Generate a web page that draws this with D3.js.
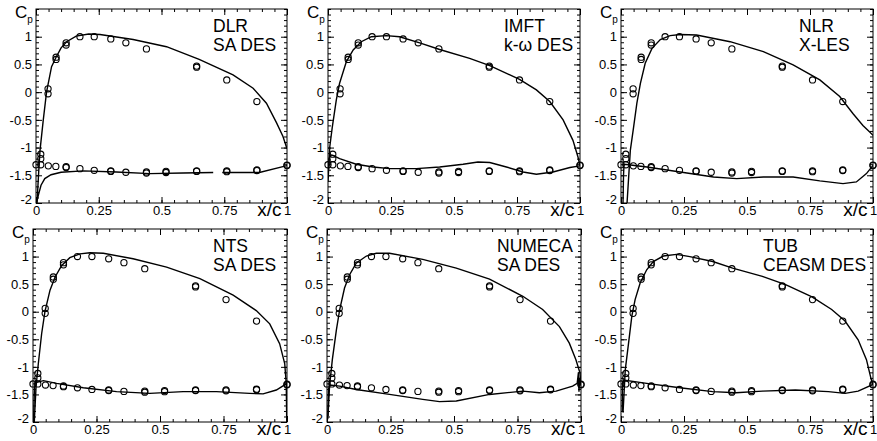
<!DOCTYPE html>
<html>
<head>
<meta charset="utf-8">
<script src="https://cdn.jsdelivr.net/npm/d3@7"></script>
<style>
  html, body { margin: 0; padding: 0; background: #fff; }
  svg text { font-family: "Liberation Sans", Arial, Helvetica, sans-serif; fill: #000; }
</style>
</head>
<body>
<svg id="chart" width="877" height="441"></svg>
<script>
// ---------------- DATA ----------------
const xTicks = [0, 0.25, 0.5, 0.75, 1];
const xTickLabels = ["0", "0.25", "0.5", "0.75", "1"];
const yTicks = [-2, -1.5, -1, -0.5, 0, 0.5, 1];
const yTickLabels = ["-2", "-1.5", "-1", "-0.5", "0", "0.5", "1"];

// experiment (same in every panel)
const expX  = [0.048, 0.048, 0.08, 0.08, 0.12, 0.12, 0.175, 0.232, 0.298, 0.358, 0.44, 0.64, 0.64, 0.76, 0.88,
               0.0, 0.019, 0.019, 0.019,
               0.049, 0.079, 0.12, 0.12, 0.175, 0.232, 0.298, 0.298, 0.358, 0.44, 0.44, 0.518, 0.518, 0.64, 0.64, 0.76, 0.76, 0.88, 0.88, 1.0, 1.0];
const expCp = [0.06, -0.03, 0.63, 0.59, 0.89, 0.85, 1.0, 1.0, 0.96, 0.89, 0.78, 0.47, 0.45, 0.22, -0.17,
               -1.31, -1.12, -1.2, -1.31,
               -1.33, -1.34, -1.36, -1.345, -1.38, -1.41, -1.43, -1.42, -1.445, -1.46, -1.44, -1.45, -1.43, -1.43, -1.42, -1.435, -1.42, -1.415, -1.405, -1.325, -1.315];

// computations: [x/c, Cp]
const dlrUpper = [[0.004,-2.0],[0.01,-1.5],[0.016,-1.05],[0.029,-0.5],[0.042,0],[0.062,0.46],[0.08,0.63],[0.1,0.8],[0.122,0.91],[0.16,1.01],[0.21,1.05],[0.255,1.04],[0.387,0.95],[0.52,0.82],[0.65,0.59],[0.785,0.31],[0.865,0.07],[0.918,-0.2],[0.958,-0.55],[0.984,-0.8],[1.0,-1.02]];
const dlrLower = [[0.002,-2.0],[0.01,-1.85],[0.02,-1.68],[0.035,-1.56],[0.06,-1.49],[0.1,-1.445],[0.188,-1.42],[0.32,-1.44],[0.454,-1.47],[0.586,-1.46],[0.706,-1.45],[null,null],[0.742,-1.45],[0.89,-1.45],[1.0,-1.325]];

const imftUpper = [[0.0,-1.62],[0.007,-0.99],[0.017,-0.63],[0.033,-0.14],[0.046,0.16],[0.073,0.55],[0.1,0.76],[0.132,0.91],[0.172,1.0],[0.231,1.02],[0.284,1.0],[0.364,0.89],[0.443,0.77],[0.562,0.61],[0.642,0.48],[0.76,0.23],[0.827,0.04],[0.88,-0.17],[0.933,-0.5],[0.972,-0.87],[0.992,-1.17],[1.0,-1.33]];
const imftLower = [[0.0,-1.55],[0.004,-1.2],[0.01,-1.13],[0.02,-1.14],[0.046,-1.2],[0.112,-1.3],[0.179,-1.35],[0.245,-1.38],[0.35,-1.38],[0.443,-1.35],[0.536,-1.3],[0.595,-1.26],[0.642,-1.27],[0.708,-1.35],[0.774,-1.44],[0.827,-1.48],[0.893,-1.44],[0.96,-1.36],[1.0,-1.33]];

const nlrUpper = [[0.024,-2.0],[0.037,-1.05],[0.05,-0.63],[0.063,-0.2],[0.077,0.16],[0.096,0.52],[0.123,0.79],[0.156,0.95],[0.195,1.02],[0.235,1.04],[0.3,1.03],[0.433,0.91],[0.565,0.73],[0.683,0.49],[0.789,0.22],[0.868,-0.08],[0.921,-0.39],[0.96,-0.6],[0.987,-0.72],[1.0,-0.78]];
const nlrLower = [[0.008,-2.0],[0.01,-1.5],[0.012,-1.3],[0.03,-1.31],[0.103,-1.35],[0.235,-1.44],[0.367,-1.53],[0.459,-1.56],[0.565,-1.53],[0.683,-1.53],[0.789,-1.6],[0.881,-1.65],[0.934,-1.62],[0.974,-1.47],[1.0,-1.32]];

const ntsUpper = [[0.005,-2.0],[0.012,-1.36],[0.021,-0.94],[0.034,-0.4],[0.047,0],[0.067,0.39],[0.087,0.63],[0.113,0.84],[0.145,0.98],[0.185,1.05],[0.224,1.07],[0.277,1.06],[0.394,0.96],[0.526,0.81],[0.657,0.6],[0.788,0.3],[0.879,0.02],[0.932,-0.22],[0.971,-0.58],[0.991,-0.94],[0.997,-1.3],[0.999,-2.0]];
const ntsLower = [[0.002,-2.0],[0.005,-1.5],[0.008,-1.29],[0.041,-1.25],[0.093,-1.3],[0.198,-1.38],[0.329,-1.45],[0.46,-1.48],[0.591,-1.45],[0.722,-1.45],[0.853,-1.48],[0.906,-1.49],[0.958,-1.42],[1.0,-1.3]];

const numecaUpper = [[0.004,-1.89],[0.01,-1.35],[0.021,-0.87],[0.037,-0.33],[0.05,0.04],[0.069,0.43],[0.089,0.67],[0.115,0.88],[0.155,1.01],[0.194,1.06],[0.246,1.06],[0.377,0.95],[0.509,0.79],[0.64,0.59],[0.771,0.28],[0.849,0.04],[0.915,-0.27],[0.954,-0.57],[0.98,-0.87],[0.996,-1.11],[1.0,-1.35]];
const numecaLower = [[0.003,-1.95],[0.006,-1.4],[0.012,-1.33],[0.05,-1.35],[0.115,-1.41],[0.246,-1.5],[0.377,-1.59],[0.443,-1.63],[0.509,-1.62],[0.64,-1.5],[0.771,-1.44],[0.836,-1.47],[0.902,-1.44],[0.967,-1.35],[0.985,-1.3],[0.99,-1.1],[0.992,-1.45],[0.995,-1.2],[1.0,-1.32]];

const tubUpper = [[0.008,-1.83],[0.017,-1.05],[0.03,-0.57],[0.043,-0.08],[0.056,0.22],[0.076,0.52],[0.102,0.76],[0.128,0.91],[0.168,1.01],[0.22,1.04],[0.273,1.0],[0.364,0.91],[0.443,0.79],[0.561,0.64],[0.653,0.49],[0.758,0.27],[0.836,0.04],[0.889,-0.17],[0.941,-0.51],[0.974,-0.87],[0.993,-1.23],[1.0,-1.32]];
const tubLower = [[0.005,-1.8],[0.006,-1.3],[0.01,-1.24],[0.102,-1.3],[0.233,-1.38],[0.364,-1.45],[0.456,-1.47],[0.561,-1.44],[0.692,-1.42],[0.823,-1.45],[0.889,-1.48],[0.941,-1.44],[1.0,-1.32]];

const panelNames = [["DLR","SA DES"],["IMFT","k-\u03c9 DES"],["NLR","X-LES"],["NTS","SA DES"],["NUMECA","SA DES"],["TUB","CEASM DES"]];
const panelCurves = [[dlrUpper,dlrLower],[imftUpper,imftLower],[nlrUpper,nlrLower],[ntsUpper,ntsLower],[numecaUpper,numecaLower],[tubUpper,tubLower]];

// ---------------- LAYOUT ----------------
const layout = [
  {x0:36,  x1:287, y0:9,   y1:203, lx:213},
  {x0:328, x1:580, y0:9,   y1:203, lx:504},
  {x0:621, x1:873, y0:9,   y1:203, lx:799},
  {x0:33,  x1:287, y0:229, y1:422, lx:213},
  {x0:327, x1:581, y0:229, y1:422, lx:497},
  {x0:621, x1:873, y0:229, y1:422, lx:763}
];

const svg = d3.select("#chart");

panelNames.forEach((names, i) => {
  const L = layout[i];
  const x = d3.scaleLinear().domain([0, 1]).range([L.x0, L.x1]);
  const y = d3.scaleLinear().domain([-2, 1.5]).range([L.y1, L.y0]);
  const g = svg.append("g");

  const clipId = "clip" + i;
  svg.append("clipPath").attr("id", clipId).append("rect")
    .attr("x", L.x0).attr("y", L.y0).attr("width", L.x1 - L.x0).attr("height", L.y1 - L.y0);

  const xMinor = d3.range(0, 1.0001, 0.05);
  const yMinor = d3.range(-2, 1.5001, 0.1);

  function styleAxis(sel) {
    sel.select(".domain").remove();
    sel.selectAll(".tick line").attr("stroke", "#000").attr("stroke-width", 1);
  }

  // minor ticks (all sides)
  g.append("g").attr("transform", `translate(0,${L.y1})`)
    .call(d3.axisBottom(x).tickValues(xMinor).tickSize(-3).tickFormat("")).call(styleAxis);
  g.append("g").attr("transform", `translate(0,${L.y0})`)
    .call(d3.axisTop(x).tickValues(xMinor).tickSize(-3).tickFormat("")).call(styleAxis);
  g.append("g").attr("transform", `translate(${L.x0},0)`)
    .call(d3.axisLeft(y).tickValues(yMinor).tickSize(-3).tickFormat("")).call(styleAxis);
  g.append("g").attr("transform", `translate(${L.x1},0)`)
    .call(d3.axisRight(y).tickValues(yMinor).tickSize(-3).tickFormat("")).call(styleAxis);

  // major ticks
  const xb = g.append("g").attr("transform", `translate(0,${L.y1})`)
    .call(d3.axisBottom(x).tickValues(xTicks).tickSize(-6).tickPadding(3)
      .tickFormat((d, k) => xTickLabels[k])).call(styleAxis);
  xb.selectAll("text").attr("font-size", 13).style("font-family", "Liberation Sans, Arial, sans-serif");
  g.append("g").attr("transform", `translate(0,${L.y0})`)
    .call(d3.axisTop(x).tickValues(xTicks).tickSize(-6).tickFormat("")).call(styleAxis);
  const yl = g.append("g").attr("transform", `translate(${L.x0},0)`)
    .call(d3.axisLeft(y).tickValues(yTicks).tickSize(-6).tickPadding(4)
      .tickFormat((d, k) => yTickLabels[k])).call(styleAxis);
  yl.selectAll("text").attr("font-size", 13).style("font-family", "Liberation Sans, Arial, sans-serif");
  yl.selectAll(".tick").filter(d => d === -2).select("text").attr("dy", "0.05em");
  g.append("g").attr("transform", `translate(${L.x1},0)`)
    .call(d3.axisRight(y).tickValues(yTicks).tickSize(-6).tickFormat("")).call(styleAxis);

  // frame
  g.append("rect").attr("x", L.x0).attr("y", L.y0)
    .attr("width", L.x1 - L.x0).attr("height", L.y1 - L.y0)
    .attr("fill", "none").attr("stroke", "#000").attr("stroke-width", 1);

  // curves
  const line = d3.line().defined(d => d[0] !== null).x(d => x(d[0])).y(d => y(d[1]));
  panelCurves[i].forEach(c => {
    g.append("path").datum(c).attr("d", line)
      .attr("fill", "none").attr("stroke", "#000").attr("stroke-width", 1.4)
      .attr("clip-path", `url(#${clipId})`);
  });

  // experiment circles
  g.append("g").selectAll("circle").data(expX.map((v, k) => [v, expCp[k]])).join("circle")
    .attr("cx", d => x(d[0])).attr("cy", d => y(d[1])).attr("r", 3.1)
    .attr("fill", "none").attr("stroke", "#000").attr("stroke-width", 1.1);

  // labels
  const cp = g.append("text").attr("x", L.x0 - 21).attr("y", L.y0 + 9).attr("font-size", 17);
  cp.append("tspan").text("C");
  cp.append("tspan").attr("font-size", 10).attr("dy", 5).text("p");

  g.append("text").attr("x", x(0.93)).attr("y", L.y1 + 13).attr("text-anchor", "middle")
    .attr("font-size", 19).text("x/c");

  names.forEach((t, k) => {
    g.append("text").attr("x", L.lx).attr("y", L.y0 + 23 + k * 18.5).attr("font-size", 17.5).text(t);
  });
});
</script>
</body>
</html>
